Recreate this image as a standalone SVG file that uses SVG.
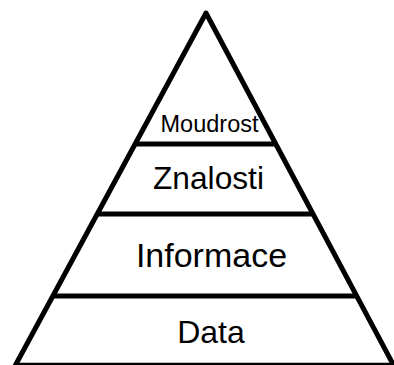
<svg xmlns="http://www.w3.org/2000/svg" width="394" height="365" viewBox="0 0 394 365">
<style>
.ln{stroke:#000;stroke-width:5;fill:none;stroke-linecap:butt;stroke-linejoin:round}
.base{stroke:#000;stroke-width:2.5;fill:none}
.t{font-family:"Liberation Sans",Arial,sans-serif;fill:#000;text-anchor:middle}
</style>
<rect width="394" height="365" fill="#fff"/>
<g id="outline">
<polyline class="ln" points="15,366 206,13 394,366"/>
<line class="base" x1="14" y1="364" x2="393" y2="364"/>
</g>
<g id="moudrost">
<text class="t" x="209.5" y="131.5" font-size="23.5">Moudrost</text>
</g>
<g id="znalosti">
<line class="ln" x1="134" y1="144" x2="277" y2="144"/>
<text class="t" x="208.5" y="189" font-size="31.7">Znalosti</text>
</g>
<g id="informace">
<line class="ln" x1="96" y1="214" x2="314" y2="214"/>
<text class="t" x="211.5" y="266.5" font-size="34">Informace</text>
</g>
<g id="data">
<line class="ln" x1="52" y1="296" x2="358" y2="296"/>
<text class="t" x="211" y="342.5" font-size="32">Data</text>
</g>
</svg>
